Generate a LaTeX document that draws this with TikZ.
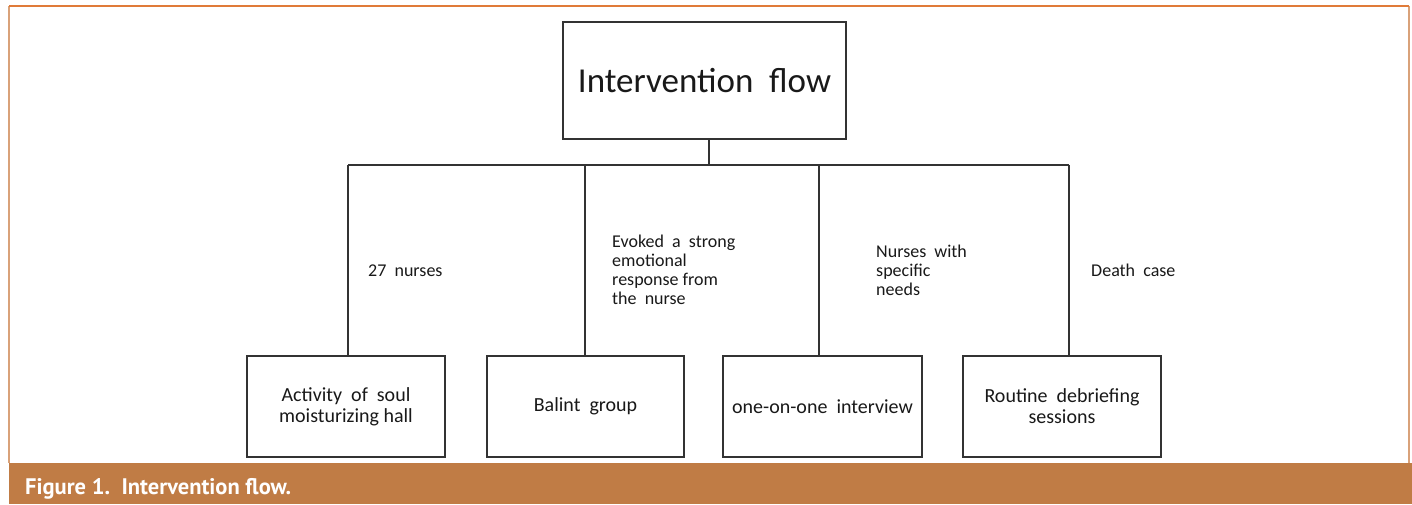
\documentclass[tikz,border=0pt]{standalone}
\usepackage{fontspec}
\setmainfont{Carlito}
\newfontfamily\capfont{PT Sans}
\definecolor{barorange}{HTML}{C07C45}
\definecolor{frametop}{HTML}{E07B39}
\definecolor{frameside}{HTML}{D9A27A}
\definecolor{boxline}{HTML}{333333}
\begin{document}
\begin{tikzpicture}[x=1pt,y=-1pt,
  box/.style={draw=boxline,line width=1.8pt,fill=white,inner sep=2pt,align=center,
    font=\fontsize{20}{21}\selectfont,text=black!90},
  conn/.style={draw=boxline,line width=1.8pt},
  lbl/.style={inner sep=0pt,align=left,font=\fontsize{18}{19}\selectfont,text=black!90}]
\useasboundingbox (0,0) rectangle (1412,504);
% frame and caption bar
\fill[white] (9,6) rectangle (1409,463);
\draw[frameside,line width=1.6pt] (9,6) -- (9,463);
\draw[frameside,line width=1.6pt] (1409,6) -- (1409,463);
\draw[frametop,line width=1.8pt] (9,6) -- (1409,6);
\fill[barorange] (9,463) rectangle (1412,504);
\node[anchor=base west,inner sep=0pt,text=white,font=\capfont\bfseries\fontsize{22.5}{24}\selectfont] (cap) at (25,494) {Figure 1.\ \ Intervention flow.};
% nodes
\node[box,minimum width=283pt,minimum height=117pt,font=\fontsize{35}{37}\selectfont] (top) at (704.5,80.5) {Intervention\ \ flow};
\node[box,minimum width=198pt,minimum height=101pt] (b1) at (346,406.5) {Activity\ \ of\ \ soul\\moisturizing hall};
\node[box,minimum width=197pt,minimum height=101pt] (b2) at (585.5,406.5) {Balint\ \ group};
\node[box,minimum width=199pt,minimum height=101pt] (b3) at (822.5,406.5) {one-on-one\ \ interview};
\node[box,minimum width=198pt,minimum height=101pt] (b4) at (1062,406.5) {Routine\ \ debriefing\\sessions};
\coordinate (hub) at (709,165);
\coordinate (hl) at (348,165);
\coordinate (h2) at (585,165);
\coordinate (h3) at (819,165);
\coordinate (hr) at (1069,165);
% connectors
\draw[conn] (top.south -| hub) -- (hub);
\draw[conn] (hl) -- (hr);
\draw[conn] (b1.north -| hl) -- (hl);
\draw[conn] (b2.north -| h2) -- (h2);
\draw[conn] (b3.north -| h3) -- (h3);
\draw[conn] (b4.north -| hr) -- (hr);
% labels
\node[lbl,anchor=base west] (l1) at (368,276) {27\ \ nurses};
\node[lbl,anchor=north west] (l2) at (612,235) {Evoked\ \ a\ \ strong\\emotional\\response from\\the\ \ nurse};
\node[lbl,anchor=north west] (l3) at (876,245) {Nurses\ \ with\\specific\\needs};
\node[lbl,anchor=base west] (l4) at (1091,276) {Death\ \ case};
\end{tikzpicture}
\end{document}
